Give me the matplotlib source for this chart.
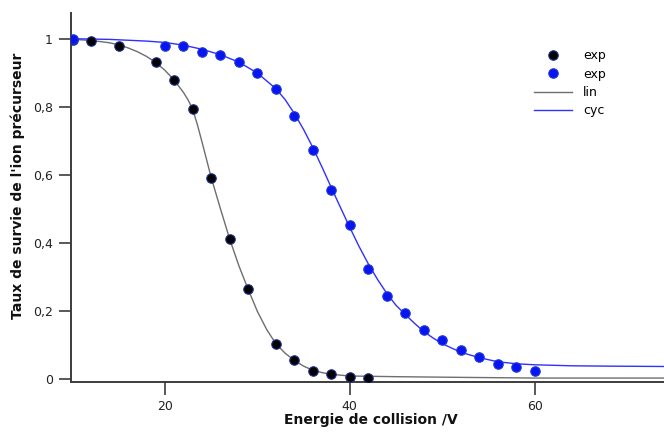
import matplotlib
matplotlib.use("Agg")
import matplotlib.pyplot as plt
from matplotlib.lines import Line2D

# ---- data ----
lin_x = [10, 12, 15, 19, 21, 23, 25, 27, 29, 32, 34, 36, 38, 40, 42]
lin_y = [0.997, 0.992, 0.980, 0.932, 0.880, 0.792, 0.591, 0.411, 0.263, 0.102, 0.054, 0.023, 0.015, 0.004, 0.003]

cyc_x = [10, 20, 22, 24, 26, 28, 30, 32, 34, 36, 38, 40, 42, 44, 46, 48, 50, 52, 54, 56, 58, 60]
cyc_y = [1.0, 0.98, 0.98, 0.96, 0.953, 0.932, 0.90, 0.851, 0.772, 0.672, 0.555, 0.452, 0.323, 0.242,
         0.194, 0.143, 0.114, 0.084, 0.063, 0.043, 0.034, 0.022]

# fitted curves
lin_fit_x = [10, 12, 14, 15, 16, 17, 18, 19, 20, 21, 22, 22.5, 23, 23.5, 24, 25, 26, 27, 28, 29, 30,
             31, 32, 33, 34, 35, 36, 37, 38, 40, 45, 52, 60, 74]
lin_fit_y = [0.998, 0.995, 0.988, 0.982, 0.973, 0.962, 0.948, 0.930, 0.907, 0.878, 0.842, 0.820,
             0.792, 0.748, 0.697, 0.592, 0.500, 0.411, 0.332, 0.263, 0.198, 0.145, 0.103, 0.075,
             0.054, 0.037, 0.025, 0.018, 0.013, 0.008, 0.006, 0.004, 0.002, 0.002]

cyc_fit_x = [10, 14, 18, 20, 22, 24, 26, 28, 30, 32, 33, 34, 35, 36, 37, 38, 39, 40, 41, 42, 43, 44,
             45, 46, 47, 48, 49, 50, 52, 54, 56, 58, 60, 64, 68, 74]
cyc_fit_y = [1.0, 0.998, 0.993, 0.989, 0.981, 0.969, 0.953, 0.931, 0.899, 0.853, 0.821, 0.780,
             0.733, 0.680, 0.622, 0.562, 0.503, 0.445, 0.389, 0.338, 0.292, 0.251, 0.216, 0.189,
             0.163, 0.139, 0.120, 0.103, 0.078, 0.062, 0.050, 0.044, 0.041, 0.038, 0.037, 0.036]

x_ticks = [20, 40, 60]
x_tick_labels = ["20", "40", "60"]
y_ticks = [0, 0.2, 0.4, 0.6, 0.8, 1.0]
y_tick_labels = ["0", "0,2", "0,4", "0,6", "0,8", "1"]

plt.rcParams['font.family'] = ['DejaVu Sans']

fig = plt.figure(figsize=(6.64, 4.32), dpi=100)
ax = fig.add_axes([0.1065, 0.1164, 0.8935, 0.8542])

gray = '#6e6e6e'
blue_line = '#3030ff'
blue_pt = '#0a14f0'

ax.plot(lin_fit_x, lin_fit_y, color=gray, lw=1.0, zorder=2)
ax.plot(cyc_fit_x, cyc_fit_y, color=blue_line, lw=1.0, zorder=2)
ax.plot(lin_x, lin_y, 'o', color='black', ms=6.8, mec='#1c2c8c', mew=0.8, zorder=3)
ax.plot(cyc_x, cyc_y, 'o', color=blue_pt, ms=6.8, mec='#1a3ad8', mew=0.8, zorder=3)

ax.set_xlim(9.8, 74)
ax.set_ylim(-0.0088, 1.0765)
ax.set_xticks(x_ticks)
ax.set_xticklabels(x_tick_labels)
ax.set_yticks(y_ticks)
ax.set_yticklabels(y_tick_labels)

for s in ['top', 'right']:
    ax.spines[s].set_visible(False)
for s in ['left', 'bottom']:
    ax.spines[s].set_color('#3c3c3c')
    ax.spines[s].set_linewidth(1.4)

ax.tick_params(axis='both', direction='out', length=9, width=1.2, color='#3c3c3c',
               labelsize=9, labelcolor='#222222', pad=4)

ax.set_xlabel("Energie de collision /V", fontsize=10, fontweight='bold', color='#111111')
ax.set_ylabel("Taux de survie de l'ion précurseur", fontsize=10, fontweight='bold', color='#111111')
ax.xaxis.set_label_coords(0.506, -0.085)
ax.yaxis.set_label_coords(-0.077, 0.53)

handles = [
    Line2D([], [], ls='none', marker='o', color='black', ms=6.8, mec='#1c2c8c', mew=0.8),
    Line2D([], [], ls='none', marker='o', color=blue_pt, ms=6.8, mec='#1a3ad8', mew=0.8),
    Line2D([], [], color=gray, lw=1.0),
    Line2D([], [], color=blue_line, lw=1.0),
]
ax.legend(handles, ["exp", "exp", "lin", "cyc"], loc='upper left',
          bbox_to_anchor=(0.795, 0.90), bbox_transform=fig.transFigure,
          frameon=False, fontsize=9, handlelength=3.0, handletextpad=0.9,
          labelspacing=0.42, borderpad=0)

fig.savefig("out.png", dpi=100)
